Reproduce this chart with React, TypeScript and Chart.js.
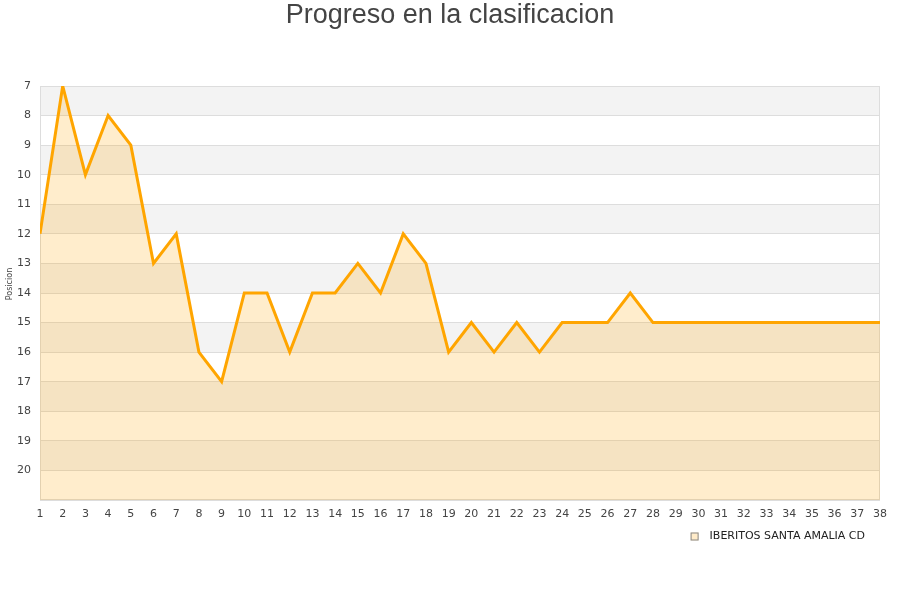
import React, { useEffect, useRef } from "react";
import { Chart, registerables } from "chart.js";

Chart.register(...registerables);

const TITLE = "Progreso en la clasificacion";
const SERIES_NAME = "IBERITOS SANTA AMALIA CD";
const Y_TITLE = "Posicion";

const rounds = [1, 2, 3, 4, 5, 6, 7, 8, 9, 10, 11, 12, 13, 14, 15, 16, 17, 18, 19, 20, 21, 22, 23, 24, 25, 26, 27, 28, 29, 30, 31, 32, 33, 34, 35, 36, 37, 38];
const positions = [12, 7, 10, 8, 9, 13, 12, 16, 17, 14, 14, 16, 14, 14, 13, 14, 12, 13, 16, 15, 16, 15, 16, 15, 15, 15, 14, 15, 15, 15, 15, 15, 15, 15, 15, 15, 15, 15];
const yMin = 7;
const yMax = 21;

const decorPlugin = {
  id: "decor",
  beforeDraw(chart: any) {
    const { ctx, chartArea, scales } = chart;
    const y = scales.y;
    ctx.save();
    ctx.fillStyle = "#ffffff";
    ctx.fillRect(chartArea.left, chartArea.top, chartArea.right - chartArea.left, chartArea.bottom - chartArea.top);
    for (let v = yMin; v < yMax; v++) {
      if ((v - yMin) % 2 === 0) {
        const y1 = y.getPixelForValue(v);
        const y2 = y.getPixelForValue(v + 1);
        ctx.fillStyle = "#f3f3f3";
        ctx.fillRect(chartArea.left, Math.min(y1, y2), chartArea.right - chartArea.left, Math.abs(y2 - y1));
      }
    }
    ctx.restore();
  },
  beforeDatasetsDraw(chart: any) {
    const { ctx, chartArea } = chart;
    ctx.save();
    ctx.strokeStyle = "#dddddd";
    ctx.lineWidth = 1;
    ctx.strokeRect(chartArea.left + 0.5, chartArea.top + 0.5, chartArea.right - chartArea.left - 1, chartArea.bottom - chartArea.top - 1);
    ctx.restore();
  },
  afterDraw(chart: any) {
    const { ctx } = chart;
    // chart title
    ctx.save();
    ctx.font = "27px 'Liberation Sans', Arial, sans-serif";
    ctx.fillStyle = "#444444";
    ctx.textAlign = "center";
    ctx.textBaseline = "middle";
    ctx.fillText(TITLE, chart.width / 2, 16);
    ctx.restore();
    // y axis title
    ctx.save();
    ctx.translate(10, 284);
    ctx.rotate(-Math.PI / 2);
    ctx.font = "8px 'DejaVu Sans'";
    ctx.fillStyle = "#444444";
    ctx.textAlign = "center";
    ctx.textBaseline = "middle";
    ctx.fillText(Y_TITLE, 0, 0);
    ctx.restore();
    // legend
    const ds = chart.data.datasets[0];
    ctx.save();
    ctx.font = "11px 'DejaVu Sans'";
    const tw = ctx.measureText(ds.label).width;
    const textRight = 865;
    const textX = textRight - tw;
    const boxX = textX - 19;
    ctx.fillStyle = "#FFEBC8";
    ctx.fillRect(boxX, 532.5, 8, 8);
    ctx.strokeStyle = "#888888";
    ctx.lineWidth = 1;
    ctx.strokeRect(boxX + 0.5, 532.5 + 0.5, 7, 7);
    ctx.fillStyle = "#222222";
    ctx.textAlign = "left";
    ctx.textBaseline = "middle";
    ctx.fillText(ds.label, textX, 536.5);
    ctx.restore();
  },
};

export default function App() {
  const ref = useRef<HTMLCanvasElement | null>(null);

  useEffect(() => {
    document.body.style.margin = "0";
    if (!ref.current) return;
    const chart = new Chart(ref.current, {
      type: "line",
      data: {
        datasets: [
          {
            label: SERIES_NAME,
            data: rounds.map((r, i) => ({ x: r, y: positions[i] })),
            borderColor: "#FFA500",
            backgroundColor: "rgba(255,165,0,0.2)",
            borderWidth: 3,
            pointRadius: 0,
            pointHoverRadius: 0,
            tension: 0,
            fill: { value: yMax },
          },
        ],
      },
      options: {
        animation: false,
        responsive: true,
        maintainAspectRatio: false,
        layout: { padding: { left: 0, right: 20, top: 86, bottom: 72 } },
        plugins: {
          title: { display: false },
          legend: { display: false },
          tooltip: { enabled: false },
        },
        scales: {
          x: {
            type: "linear",
            min: rounds[0],
            max: rounds[rounds.length - 1],
            grid: { display: false, drawTicks: false },
            border: { display: false },
            ticks: {
              stepSize: 1,
              autoSkip: false,
              maxRotation: 0,
              padding: 8,
              color: "#444444",
              font: { family: "'DejaVu Sans'", size: 11 },
            },
            afterFit: (s: any) => {
              s.height = 28;
            },
          },
          y: {
            type: "linear",
            reverse: true,
            min: yMin,
            max: yMax,
            grid: { color: "#dddddd", drawTicks: false },
            border: { display: false },
            ticks: {
              stepSize: 1,
              padding: 9,
              color: "#444444",
              font: { family: "'DejaVu Sans'", size: 11 },
              callback: (v: any) => (v === yMax ? "" : String(v)),
            },
            afterFit: (s: any) => {
              s.width = 40;
            },
          },
        },
      },
      plugins: [decorPlugin],
    });
    return () => chart.destroy();
  }, []);

  return (
    <div style={{ position: "absolute", left: 0, top: 0, width: 900, height: 600 }}>
      <canvas ref={ref} />
    </div>
  );
}
